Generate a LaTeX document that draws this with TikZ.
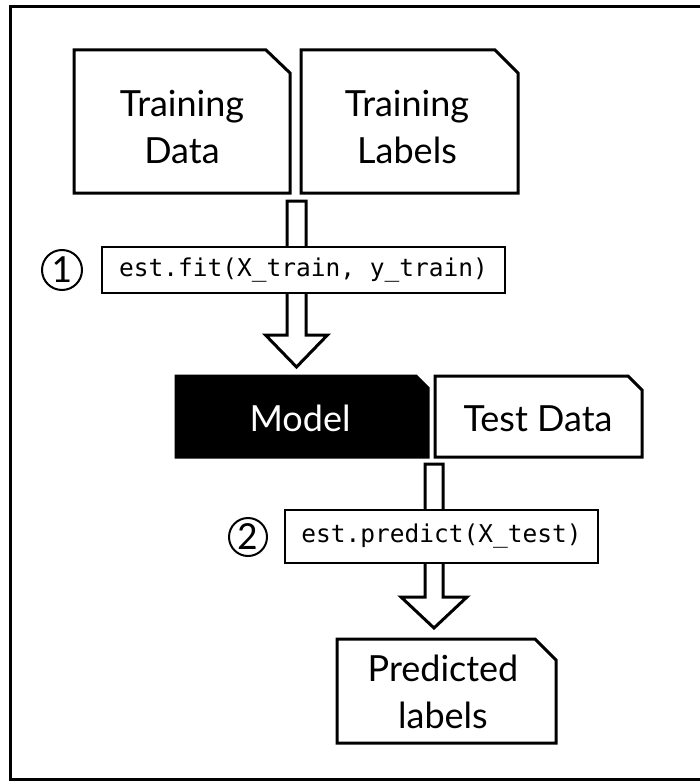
\documentclass[tikz,border=0pt]{standalone}
\usepackage{fontspec}
\usetikzlibrary{calc}
\setmainfont{Lato}
\newfontfamily\codefont{DejaVu Sans Mono}
\newfontfamily\numfont{Carlito}
\begin{document}
\begin{tikzpicture}[x=1pt,y=-1pt, line join=miter,
  boxline/.style={draw=black, line width=3pt},
  doclabel/.style={align=center, inner sep=0pt, font=\fontsize{36}{47}\selectfont},
  codebox/.style={draw=black, fill=white, line width=2.5pt, inner sep=0pt, font=\codefont\fontsize{24.5}{24.5}\selectfont},
  numcirc/.style={circle, draw=black, line width=2pt, inner sep=0pt, font=\numfont\fontsize{40}{40}\selectfont},
  blockarrow/.style={draw=black, fill=white, line width=3pt}]
\useasboundingbox (0,0) rectangle (700,781);
\fill[white] (0,0) rectangle (700,781);
% frame
\draw[line width=3pt] (712,6.5) -- (10.5,6.5) -- (10.5,779.5) -- (712,779.5);

% document boxes
\draw[boxline] (74,50) -- (266,50) -- (290,73) -- (290,193) -- (74,193) -- cycle;
\node[doclabel] (tdata) at (182,127) {Training\\Data};
\draw[boxline] (301,50) -- (495,50) -- (518,73) -- (518,193) -- (301,193) -- cycle;
\node[doclabel] (tlabels) at (407,127) {Training\\Labels};

% arrow 1
\coordinate (a1top) at (296.5,201);
\coordinate (a1tip) at (296.5,367);
\draw[blockarrow] ($(a1top)+(-9.5,0)$) -- ($(a1top)+(9.5,0)$) -- ($(a1tip)+(9.5,-32)$) -- ($(a1tip)+(31,-32)$) -- (a1tip) -- ($(a1tip)+(-31,-32)$) -- ($(a1tip)+(-9.5,-32)$) -- cycle;
\node[codebox, minimum width=403pt, minimum height=46pt] (fit) at (303.5,270) {est.fit(X\_train, y\_train)};
\node[numcirc, minimum size=40pt] (n1) at (62,270) {1};

% model and test data
\draw[boxline, fill=black] (176,376) -- (416,376) -- (428,388) -- (428,457) -- (176,457) -- cycle;
\node[doclabel, text=white] (model) at (300,418.5) {Model};
\draw[boxline] (435,376) -- (628,376) -- (642,390) -- (642,457) -- (435,457) -- cycle;
\node[doclabel] (test) at (538,418.5) {Test Data};

% arrow 2
\coordinate (a2top) at (434,464);
\coordinate (a2tip) at (434,628);
\draw[blockarrow] ($(a2top)+(-9,0)$) -- ($(a2top)+(9,0)$) -- ($(a2tip)+(9,-31)$) -- ($(a2tip)+(33,-31)$) -- (a2tip) -- ($(a2tip)+(-33,-31)$) -- ($(a2tip)+(-9,-31)$) -- cycle;
\node[codebox, minimum width=313pt, minimum height=53pt] (pred) at (441.5,536.5) {est.predict(X\_test)};
\node[numcirc, minimum size=38pt] (n2) at (248,537) {2};

% predicted labels
\draw[boxline] (337,639) -- (535,639) -- (556,660) -- (556,743) -- (337,743) -- cycle;
\node[doclabel] (plabels) at (443,692) {Predicted\\labels};
\end{tikzpicture}
\end{document}
